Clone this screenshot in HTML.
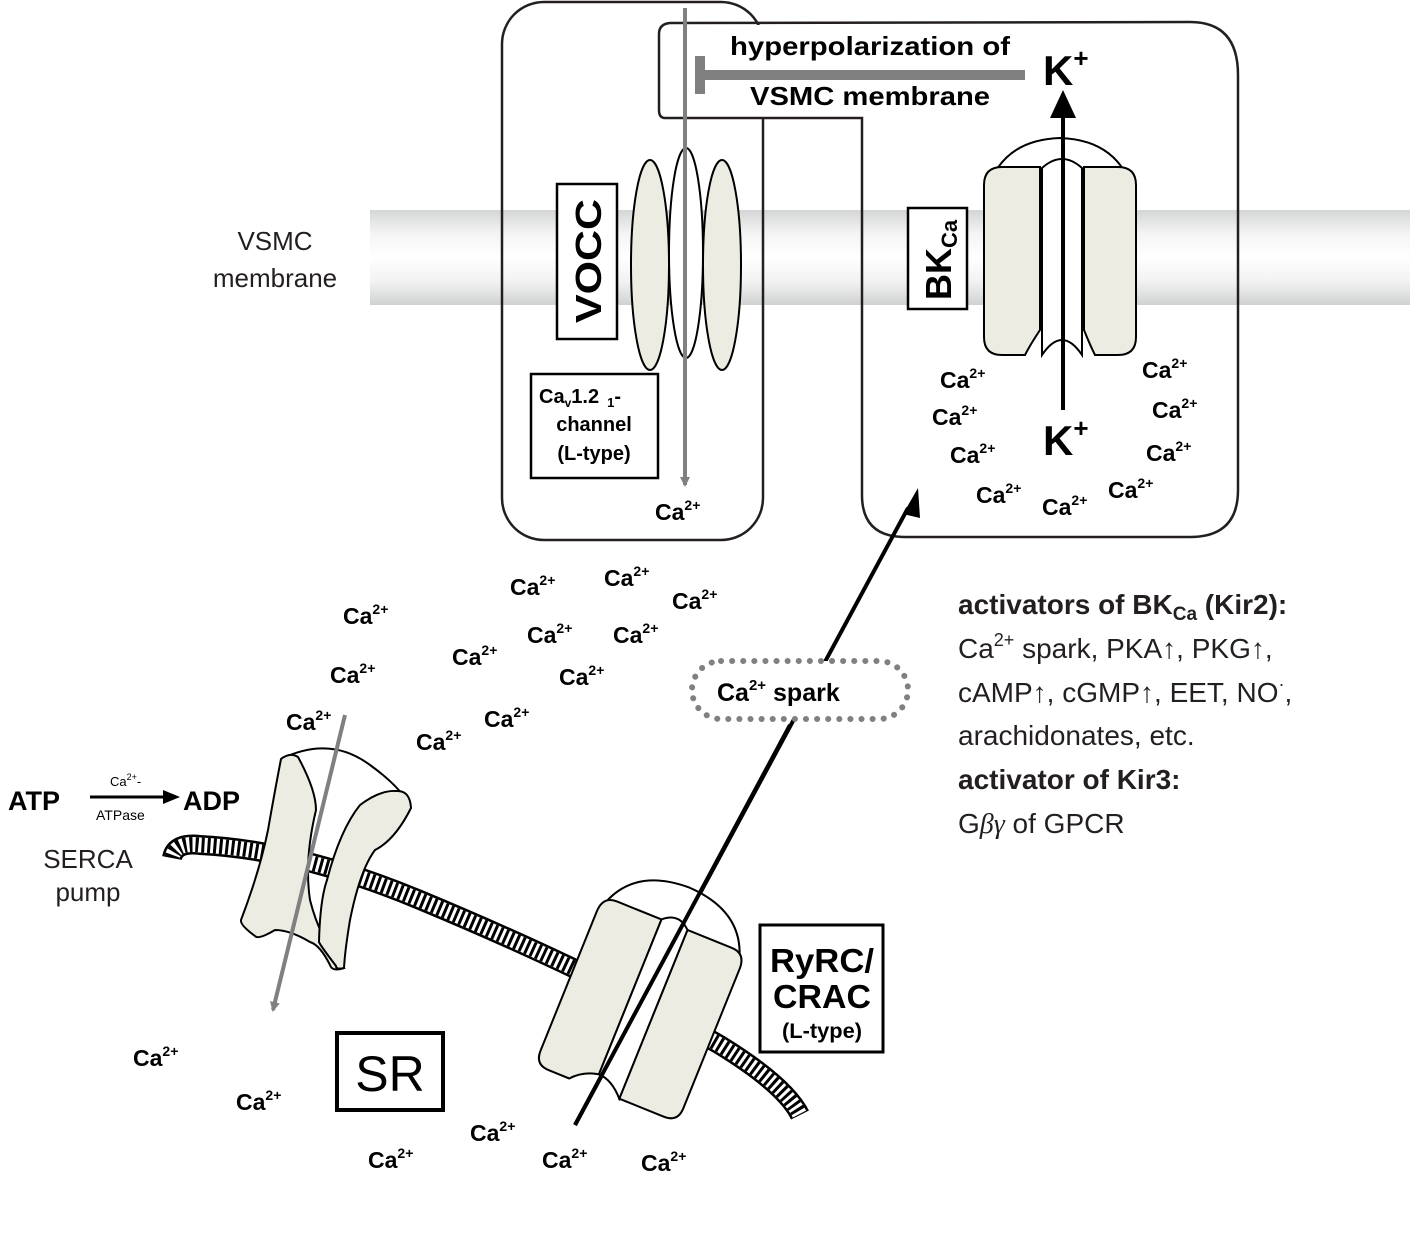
<!DOCTYPE html>
<html><head><meta charset="utf-8"><style>
html,body{margin:0;padding:0;background:#fff;}
svg{display:block;font-family:"Liberation Sans",sans-serif;}
.ca{font-weight:bold;font-size:23px;}
.ca tspan{font-size:14px;}
</style></head><body>
<svg width="1417" height="1238" viewBox="0 0 1417 1238" xmlns="http://www.w3.org/2000/svg">
<defs>
<linearGradient id="mem" x1="0" y1="0" x2="0" y2="1">
<stop offset="0" stop-color="#d4d6d6"/><stop offset="0.25" stop-color="#f4f4f4"/><stop offset="0.5" stop-color="#ffffff"/><stop offset="0.75" stop-color="#f2f2f2"/><stop offset="1" stop-color="#d0d2d2"/>
</linearGradient>
<marker id="ag" markerWidth="10" markerHeight="10" refX="8" refY="5" orient="auto" markerUnits="userSpaceOnUse" viewBox="0 0 10 10"><path d="M0,0 L10,5 L0,10z" fill="#808080"/></marker>
</defs>
<!-- membrane -->
<rect x="370" y="210" width="1040" height="95" fill="url(#mem)"/>
<text x="275" y="250" font-size="26" text-anchor="middle" fill="#231f20">VSMC</text>
<text x="275" y="287" font-size="26" text-anchor="middle" fill="#231f20">membrane</text>

<!-- VOCC box -->
<rect x="502" y="2" width="261" height="538" rx="42" fill="none" stroke="#231f20" stroke-width="2.5"/>
<rect x="661" y="25" width="200" height="92" fill="#fff"/>
<!-- right box -->
<path d="M862,118 L665,118 Q659,118 659,110 L659,34 Q659,24 670,23 L1190,22 Q1238,22 1238,75 L1238,490 Q1238,537 1190,537 L905,537 Q862,537 862,495 Z" fill="none" stroke="#231f20" stroke-width="2.5"/>

<!-- VOCC ellipses -->
<ellipse cx="650" cy="265" rx="19" ry="105" fill="#ecece2" stroke="#000" stroke-width="2"/>
<ellipse cx="722" cy="265" rx="19" ry="105" fill="#ecece2" stroke="#000" stroke-width="2"/>
<ellipse cx="686" cy="253" rx="17" ry="105" fill="#fff" stroke="#000" stroke-width="2"/>
<line x1="685" y1="8" x2="685" y2="485" stroke="#808080" stroke-width="4" marker-end="url(#ag)"/>
<!-- VOCC label -->
<rect x="557" y="184" width="60" height="155" fill="#fff" stroke="#000" stroke-width="2.5"/>
<text transform="translate(601,261) rotate(-90)" font-size="36" font-weight="bold" text-anchor="middle" textLength="124" lengthAdjust="spacingAndGlyphs">VOCC</text>
<rect x="531" y="374" width="127" height="104" fill="#fff" stroke="#000" stroke-width="2.5"/>
<text x="539" y="403" font-size="20" font-weight="bold">Ca<tspan font-size="12" dy="4">v</tspan><tspan dy="-4">1.2</tspan><tspan font-size="13" dx="8" dy="4">1</tspan><tspan dy="-4">-</tspan></text>
<text x="594" y="431" font-size="20" font-weight="bold" text-anchor="middle">channel</text>
<text x="594" y="460" font-size="20" font-weight="bold" text-anchor="middle">(L-type)</text>
<text class="ca" x="655" y="520">Ca<tspan dy="-10">2+</tspan></text>

<!-- inhibition -->
<line x1="700" y1="75" x2="1025" y2="75" stroke="#808080" stroke-width="10"/>
<line x1="700" y1="56" x2="700" y2="94" stroke="#808080" stroke-width="10"/>
<text x="870" y="55" font-size="26" font-weight="bold" text-anchor="middle" textLength="280" lengthAdjust="spacingAndGlyphs">hyperpolarization of</text>
<text x="870" y="105" font-size="26" font-weight="bold" text-anchor="middle" textLength="240" lengthAdjust="spacingAndGlyphs">VSMC membrane</text>
<text x="1043" y="85" font-size="42" font-weight="bold">K<tspan font-size="26" dy="-18">+</tspan></text>
<text x="1043" y="455" font-size="42" font-weight="bold">K<tspan font-size="26" dy="-18">+</tspan></text>

<!-- BKCa channel -->
<path d="M986,195 Q1000,140 1060,138 Q1120,140 1134,195" fill="#fff" stroke="#000" stroke-width="2"/>
<path d="M1002,167 L1040,167 L1040,330 Q1030,345 1025,355 L1002,355 Q984,355 984,337 L984,185 Q984,167 1002,167 Z" fill="#ecece2" stroke="#000" stroke-width="2"/>
<path d="M1084,167 L1118,167 Q1136,167 1136,185 L1136,337 Q1136,355 1118,355 L1095,355 Q1090,345 1084,330 Z" fill="#ecece2" stroke="#000" stroke-width="2"/>
<path d="M1042,168 Q1062,150 1082,168 L1082,355 Q1062,325 1042,355 Z" fill="#fff" stroke="#000" stroke-width="2"/>
<line x1="1063" y1="410" x2="1063" y2="110" stroke="#000" stroke-width="4"/>
<path d="M1050,118 L1063,90 L1076,118 Z" fill="#000"/>
<rect x="908" y="208" width="59" height="101" fill="#fff" stroke="#000" stroke-width="2.5"/>
<text transform="translate(951,300) rotate(-90)" font-size="36" font-weight="bold">BK<tspan font-size="22" dy="6">Ca</tspan></text>

<!-- BK Ca -->
<text class="ca" x="940" y="388">Ca<tspan dy="-10">2+</tspan></text>
<text class="ca" x="932" y="425">Ca<tspan dy="-10">2+</tspan></text>
<text class="ca" x="950" y="463">Ca<tspan dy="-10">2+</tspan></text>
<text class="ca" x="976" y="503">Ca<tspan dy="-10">2+</tspan></text>
<text class="ca" x="1042" y="515">Ca<tspan dy="-10">2+</tspan></text>
<text class="ca" x="1108" y="498">Ca<tspan dy="-10">2+</tspan></text>
<text class="ca" x="1142" y="378">Ca<tspan dy="-10">2+</tspan></text>
<text class="ca" x="1152" y="418">Ca<tspan dy="-10">2+</tspan></text>
<text class="ca" x="1146" y="461">Ca<tspan dy="-10">2+</tspan></text>

<!-- cytosol Ca -->
<text class="ca" x="343" y="624">Ca<tspan dy="-10">2+</tspan></text>
<text class="ca" x="330" y="683">Ca<tspan dy="-10">2+</tspan></text>
<text class="ca" x="286" y="730">Ca<tspan dy="-10">2+</tspan></text>
<text class="ca" x="510" y="595">Ca<tspan dy="-10">2+</tspan></text>
<text class="ca" x="604" y="586">Ca<tspan dy="-10">2+</tspan></text>
<text class="ca" x="672" y="609">Ca<tspan dy="-10">2+</tspan></text>
<text class="ca" x="452" y="665">Ca<tspan dy="-10">2+</tspan></text>
<text class="ca" x="527" y="643">Ca<tspan dy="-10">2+</tspan></text>
<text class="ca" x="613" y="643">Ca<tspan dy="-10">2+</tspan></text>
<text class="ca" x="559" y="685">Ca<tspan dy="-10">2+</tspan></text>
<text class="ca" x="416" y="750">Ca<tspan dy="-10">2+</tspan></text>
<text class="ca" x="484" y="727">Ca<tspan dy="-10">2+</tspan></text>

<!-- spark arrow -->
<line x1="575" y1="1125" x2="908" y2="508" stroke="#000" stroke-width="4"/>
<path d="M903,514 L918,488 L920,518 Z" fill="#000"/>
<rect x="692" y="661" width="216" height="58" rx="29" fill="#fff" stroke="#808080" stroke-width="6" stroke-dasharray="0.1 11" stroke-linecap="round"/>
<text x="717" y="701" font-size="25" font-weight="bold">Ca<tspan font-size="15" dy="-11">2+</tspan><tspan dy="11"> spark</tspan></text>

<!-- SR membrane band -->
<path d="M172,858 Q175,842 200,845 Q300,850 420,900 Q600,975 720,1045 Q785,1085 800,1115" fill="none" stroke="#000" stroke-width="20"/>
<path d="M172,858 Q175,842 200,845 Q300,850 420,900 Q600,975 720,1045 Q785,1085 800,1115" fill="none" stroke="#fff" stroke-width="15"/>
<path d="M172,858 Q175,842 200,845 Q300,850 420,900 Q600,975 720,1045 Q785,1085 800,1115" fill="none" stroke="#000" stroke-width="15" stroke-dasharray="3 3"/>

<!-- SERCA -->
<path d="M281,759 Q330,735 370,765 Q398,785 410,805 L396,791 Q340,770 298,757 Z" fill="#fff" stroke="none"/>
<path d="M281,759 Q330,735 370,765 Q398,785 410,805" fill="none" stroke="#000" stroke-width="2"/>
<path d="M281,759 Q290,752 298,757 Q316,790 316,810 Q304,860 310,900 Q320,940 344,968 Q332,972 330,965 Q320,945 310,942 Q290,930 275,930 Q258,940 255,936 Q240,925 241,920 Q260,870 268,830 Q275,790 281,759 Z" fill="#ecece2" stroke="#000" stroke-width="2"/>
<path d="M396,791 Q410,790 411,808 Q395,840 375,850 Q360,870 350,920 Q345,950 344,968 Q336,970 336,966 Q320,945 319,942 Q320,900 327,880 Q340,830 360,805 Q380,790 396,791 Z" fill="#ecece2" stroke="#000" stroke-width="2"/>
<line x1="345" y1="715" x2="273" y2="1010" stroke="#808080" stroke-width="4" marker-end="url(#ag)"/>

<!-- RyRC channel -->
<g transform="rotate(22,640,1010)">
<path d="M563,945 Q570,880 640,878 Q710,880 717,945" fill="#fff" stroke="#000" stroke-width="2"/>
<path d="M578,918 L626,918 L626,1085 Q610,1088 600,1100 L578,1100 Q563,1100 563,1085 L563,935 Q563,918 578,918 Z" fill="#ecece2" stroke="#000" stroke-width="2"/>
<path d="M654,918 L702,918 Q717,918 717,935 L717,1085 Q717,1100 702,1100 L654,1100 Z" fill="#ecece2" stroke="#000" stroke-width="2"/>
<path d="M626,918 Q640,905 654,918 L654,1100 Q640,1085 626,1085 Z" fill="#fff" stroke="#000" stroke-width="2"/>
</g>
<line x1="575" y1="1125" x2="790" y2="725" stroke="#000" stroke-width="4"/>

<!-- SR / labels -->
<rect x="337" y="1033" width="106" height="77" fill="#fff" stroke="#000" stroke-width="4"/>
<text x="390" y="1091" font-size="50" text-anchor="middle">SR</text>
<rect x="760" y="925" width="123" height="127" fill="#fff" stroke="#000" stroke-width="3"/>
<text x="822" y="972" font-size="33" font-weight="bold" text-anchor="middle" textLength="104" lengthAdjust="spacingAndGlyphs">RyRC/</text>
<text x="822" y="1008" font-size="33" font-weight="bold" text-anchor="middle" textLength="98" lengthAdjust="spacingAndGlyphs">CRAC</text>
<text x="822" y="1038" font-size="21" font-weight="bold" text-anchor="middle" textLength="80" lengthAdjust="spacingAndGlyphs">(L-type)</text>

<text class="ca" x="133" y="1066">Ca<tspan dy="-10">2+</tspan></text>
<text class="ca" x="236" y="1110">Ca<tspan dy="-10">2+</tspan></text>
<text class="ca" x="368" y="1168">Ca<tspan dy="-10">2+</tspan></text>
<text class="ca" x="470" y="1141">Ca<tspan dy="-10">2+</tspan></text>
<text class="ca" x="542" y="1168">Ca<tspan dy="-10">2+</tspan></text>
<text class="ca" x="641" y="1171">Ca<tspan dy="-10">2+</tspan></text>

<!-- ATP -->
<text x="8" y="810" font-size="27" font-weight="bold">ATP</text>
<line x1="90" y1="797" x2="165" y2="797" stroke="#000" stroke-width="3"/>
<path d="M163,790 L180,797 L163,804 Z" fill="#000"/>
<text x="110" y="786" font-size="13">Ca<tspan font-size="9" dy="-6">2+</tspan><tspan dy="6">-</tspan></text>
<text x="96" y="820" font-size="14">ATPase</text>
<text x="183" y="810" font-size="27" font-weight="bold">ADP</text>
<text x="88" y="868" font-size="26" text-anchor="middle" fill="#231f20">SERCA</text>
<text x="88" y="901" font-size="26" text-anchor="middle" fill="#231f20">pump</text>

<!-- right text -->
<g font-size="28" fill="#231f20">
<text x="958" y="614" font-weight="bold">activators of BK<tspan font-size="19" dy="6">Ca</tspan><tspan dy="-6"> (Kir2):</tspan></text>
<text x="958" y="658">Ca<tspan font-size="18" dy="-12">2+</tspan><tspan dy="12"> spark, PKA↑, PKG↑,</tspan></text>
<text x="958" y="702">cAMP↑, cGMP↑, EET, NO<tspan font-size="18" dy="-12">·</tspan><tspan dy="12">,</tspan></text>
<text x="958" y="745">arachidonates, etc.</text>
<text x="958" y="789" font-weight="bold">activator of Kir3:</text>
<text x="958" y="833">G<tspan font-style="italic" font-family="Liberation Serif, serif">βγ</tspan> of GPCR</text>
</g>
</svg>
</body></html>
